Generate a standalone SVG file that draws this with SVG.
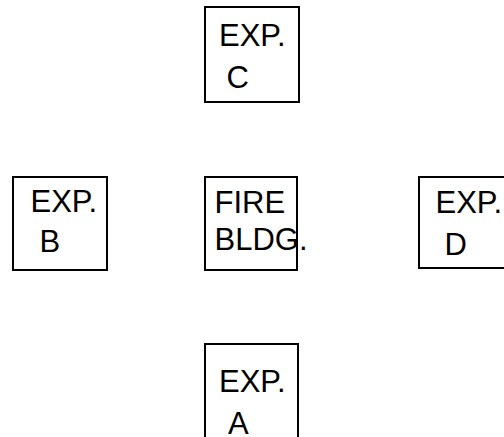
<svg xmlns="http://www.w3.org/2000/svg" width="504" height="437" viewBox="0 0 504 437">
<style>
.box{fill:#fff;stroke:#000;stroke-width:2}
.t{font-family:"Liberation Sans",Arial,sans-serif;font-size:31px;fill:#000}
</style>
<rect width="504" height="437" fill="#fff"/>
<g id="connectors"></g>
<g id="expC">
<rect class="box" x="205" y="7" width="94" height="95"/>
<text class="t" x="219" y="46">EXP.</text>
<text class="t" x="226.5" y="88">C</text>
</g>
<g id="expB">
<rect class="box" x="13" y="177" width="94" height="93"/>
<text class="t" x="30.5" y="212">EXP.</text>
<text class="t" x="39.5" y="252">B</text>
</g>
<g id="fireBldg">
<rect class="box" x="205" y="177" width="92" height="93"/>
<text class="t" x="214.5" y="213">FIRE</text>
<text class="t" x="214.5" y="250">BLDG.</text>
</g>
<g id="expD">
<rect class="box" x="419" y="177" width="94" height="91"/>
<text class="t" x="435.5" y="213">EXP.</text>
<text class="t" x="444.5" y="255">D</text>
</g>
<g id="expA">
<rect class="box" x="205" y="344" width="93" height="100"/>
<text class="t" x="219" y="392">EXP.</text>
<text class="t" x="228" y="434">A</text>
</g>
</svg>
